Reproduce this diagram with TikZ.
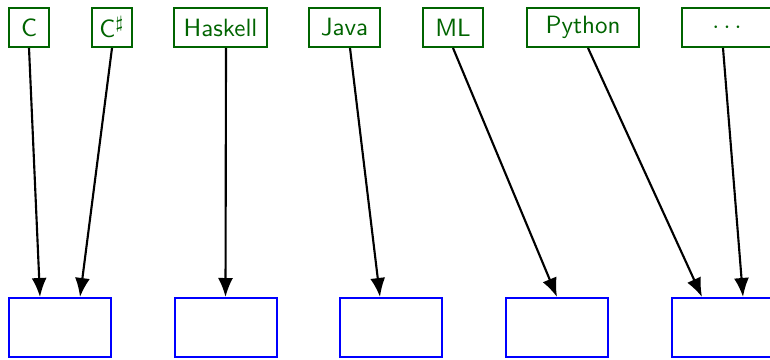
\documentclass[tikz,border=0pt]{standalone}
\usetikzlibrary{arrows.meta}
\definecolor{dgreen}{RGB}{0,100,0}
\begin{document}
\begin{tikzpicture}[x=0.4pt,y=-0.4pt,
  lang/.style={draw=dgreen,text=dgreen,line width=0.8pt,minimum height=15.6pt,inner sep=0pt,font=\sffamily},
  slot/.style={draw=blue,line width=0.8pt,minimum width=40.8pt,minimum height=23.6pt,inner sep=0pt},
  link/.style={line width=0.85pt,-{Latex[length=7.6pt,width=6pt]}}]
\useasboundingbox (0,0) rectangle (770,359);
% top language nodes
\node[lang,minimum width=16pt]   (c)  at (29,27.5)   {C};
\node[lang,minimum width=16pt]   (cs) at (112,27.5)  {C$^\sharp$};
\node[lang,minimum width=37.2pt] (hs) at (220.5,27.5){Haskell};
\node[lang,minimum width=28.4pt] (jv) at (344.5,27.5){Java};
\node[lang,minimum width=24pt]   (ml) at (453,27.5)  {ML};
\node[lang,minimum width=44.8pt] (py) at (583,27.5)  {Python};
\node[lang,minimum width=36pt]   (dt) at (727,27.5)  {$\cdots$};
% bottom boxes
\node[slot] (b1) at (60,327.5) {};
\node[slot] (b2) at (225.5,327.5) {};
\node[slot] (b3) at (391,327.5) {};
\node[slot] (b4) at (557,327.5) {};
\node[slot] (b5) at (723,327.5) {};
% connectors
\draw[link] (c.south)  -- ([xshift=-8pt]b1.north);
\draw[link] (cs.south) -- ([xshift=8pt]b1.north);
\draw[link] ([xshift=2.2pt]hs.south) -- (b2.north);
\draw[link] ([xshift=2.2pt]jv.south) -- ([xshift=-4.4pt]b3.north);
\draw[link] (ml.south) -- (b4.north);
\draw[link] ([xshift=2pt]py.south) -- ([xshift=-8.4pt]b5.north);
\draw[link] ([xshift=-1.6pt]dt.south) -- ([xshift=8pt]b5.north);
\end{tikzpicture}
\end{document}
